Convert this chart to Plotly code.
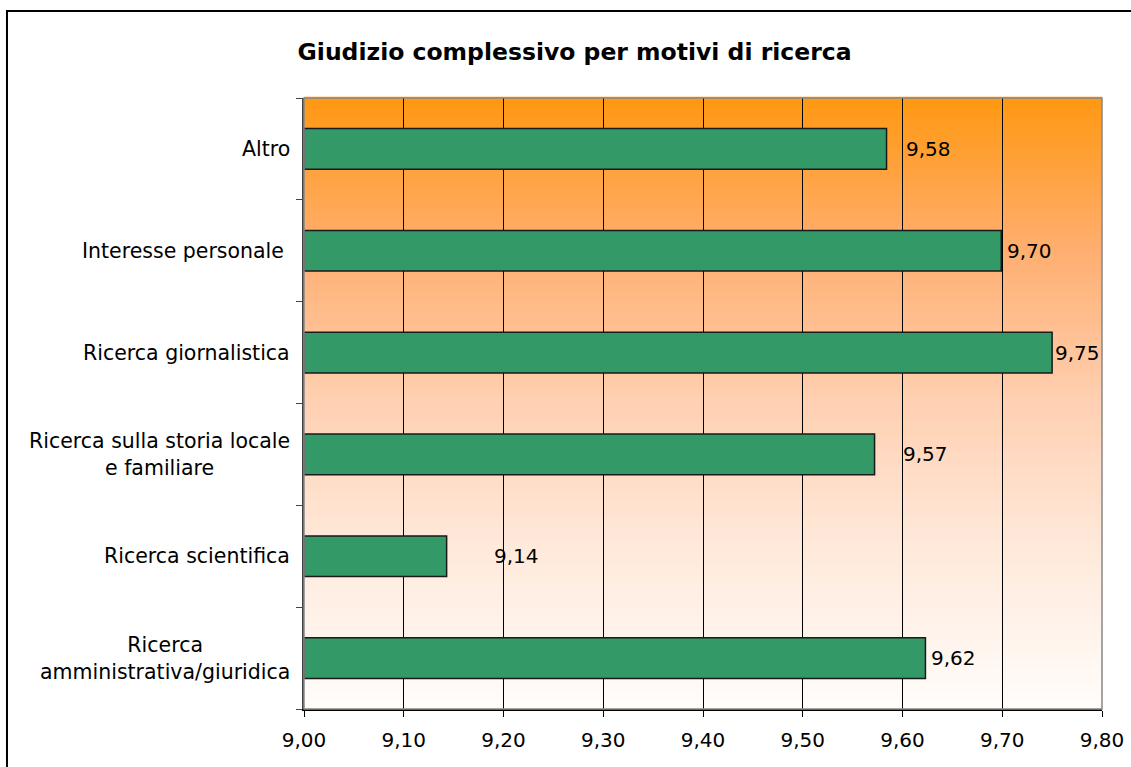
import plotly.graph_objects as go

# categories from bottom to top
categories = [
    "Ricerca<br>amministrativa/giuridica",
    "Ricerca scientifica",
    "Ricerca sulla storia locale<br>e familiare",
    "Ricerca giornalistica",
    "Interesse personale ",
    "Altro",
]
values = [9.623, 9.143, 9.572, 9.750, 9.699, 9.584]
value_labels = ["9,62", "9,14", "9,57", "9,75", "9,70", "9,58"]
label_shift = [4, 45, 26, 1, 4, 17]

x_ticks = [9.0, 9.1, 9.2, 9.3, 9.4, 9.5, 9.6, 9.7, 9.8]
x_tick_text = ["9,00", "9,10", "9,20", "9,30", "9,40", "9,50", "9,60", "9,70", "9,80"]

font_family = "DejaVu Sans, Verdana, sans-serif"

fig = go.Figure()

fig.add_trace(go.Bar(
    x=[v - 9.0 for v in values],
    base=9.0,
    y=categories,
    orientation="h",
    marker=dict(color="#339966", line=dict(color="#1a1a1a", width=1.5)),
    hoverinfo="skip",
    showlegend=False,
))

# value labels next to the bars
for cat, v, txt, sh in zip(categories, values, value_labels, label_shift):
    fig.add_annotation(x=v, y=cat, text=txt, showarrow=False, xanchor="left",
                       xshift=sh, font=dict(family=font_family, size=20, color="black"))

# category labels, centred like Excel does
for cat in categories:
    fig.add_annotation(x=0, xref="paper", y=cat, text=cat, showarrow=False,
                       xanchor="right", xshift=-12, align="center",
                       font=dict(family=font_family, size=20.5, color="black"))

# vertical gradient background: orange at top, peach in the middle, white at bottom
stops = [
    (0.0, (255, 152, 18)),
    (0.25, (255, 174, 112)),
    (0.5, (255, 208, 178)),
    (0.75, (255, 234, 220)),
    (1.0, (255, 252, 250)),
]


def grad_color(t):
    for (t0, c0), (t1, c1) in zip(stops[:-1], stops[1:]):
        if t <= t1:
            f = (t - t0) / (t1 - t0)
            return tuple(round(c0[k] + (c1[k] - c0[k]) * f) for k in range(3))
    return stops[-1][1]


n = 150
shapes = []
for i in range(n):
    c = grad_color(i / (n - 1))
    shapes.append(dict(
        type="rect", xref="x domain", yref="y domain",
        x0=0, x1=1, y0=1 - (i + 1) / n, y1=1 - i / n + 0.002,
        fillcolor="rgb(%d,%d,%d)" % c, line=dict(width=0), layer="below",
    ))
# gray border top/right of plot area
shapes.append(dict(type="rect", xref="x domain", yref="y domain", x0=0, x1=1, y0=0, y1=1,
                   line=dict(color="#888888", width=1.5), layer="above"))
# outer frame
shapes.append(dict(type="rect", xref="paper", yref="paper", x0=-0.3722, x1=1.1, y0=-0.2, y1=1.1424,
                   line=dict(color="black", width=2), fillcolor="rgba(0,0,0,0)", layer="above"))

fig.update_layout(
    width=1131,
    height=767,
    margin=dict(l=304, r=29, t=98, b=58),
    paper_bgcolor="white",
    plot_bgcolor="white",
    shapes=shapes,
    bargap=0.6,
    font=dict(family=font_family, size=20, color="black"),
    title=dict(
        text="<b>Giudizio complessivo per motivi di ricerca</b>",
        x=0.508, xanchor="center", xref="container",
        y=0.932, yanchor="middle",
        font=dict(family=font_family, size=23.5, color="black"),
    ),
)

fig.update_xaxes(
    range=[9.0, 9.8],
    tickvals=x_ticks,
    ticktext=x_tick_text,
    showgrid=True,
    gridcolor="black",
    gridwidth=1,
    ticks="outside",
    ticklen=6,
    tickcolor="black",
    ticklabelstandoff=6,
    showline=True,
    linecolor="black",
    linewidth=1.5,
    zeroline=False,
    automargin=False,
    tickfont=dict(size=20),
)
fig.update_yaxes(
    categoryorder="array",
    categoryarray=categories,
    tickson="boundaries",
    ticks="outside",
    ticklen=6,
    tickcolor="#444444",
    showline=True,
    linecolor="#444444",
    linewidth=1.5,
    showgrid=False,
    showticklabels=False,
    automargin=False,
)

fig.write_html("out.html", config={"displayModeBar": False},
               post_script="document.body.style.margin='0';")
